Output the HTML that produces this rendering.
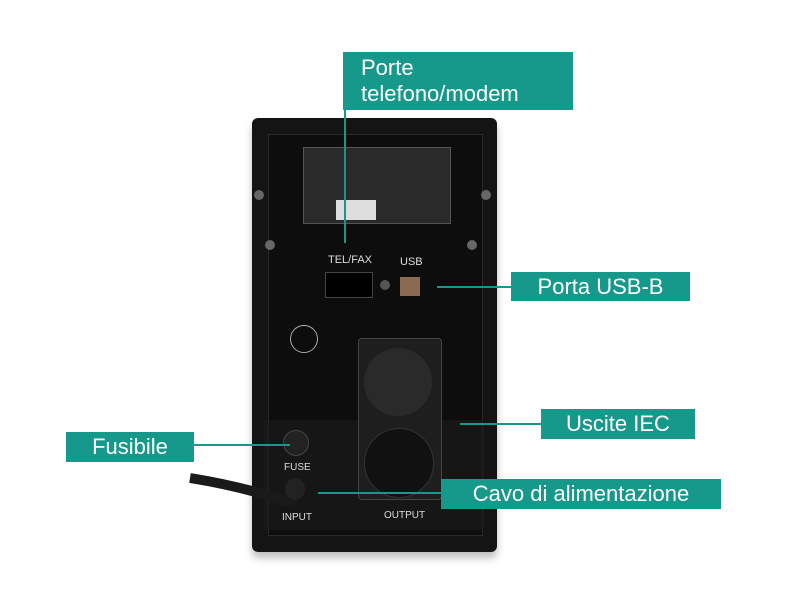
<!DOCTYPE html>
<html><head><style>
body{margin:0;width:800px;height:600px;background:#fff;position:relative;overflow:hidden;font-family:"Liberation Sans",sans-serif}
.a{position:absolute}
.lab{position:absolute;background:#16988b;color:#fff;font-size:22px;line-height:26px;padding:0 10px;box-sizing:border-box}
.ln{position:absolute;background:#16988b}
.t{position:absolute;color:#ddd;font-size:10px}
</style></head><body>
<!-- body -->
<div class="a" style="left:252px;top:118px;width:245px;height:434px;background:#141414;border-radius:6px;box-shadow:0 6px 8px rgba(0,0,0,.25)"></div>
<div class="a" style="left:268px;top:134px;width:213px;height:400px;background:#0d0d0d;border:1px solid #2a2a2a"></div>
<div class="a" style="left:264px;top:420px;width:220px;height:110px;background:#1c1c1c;opacity:.6"></div>
<!-- cable -->
<svg class="a" style="left:0;top:0" width="800" height="600">
<path d="M190 478 Q240 486 282 500 Q296 504 296 490" stroke="#1a1a1a" stroke-width="10" fill="none"/>
</svg>
<!-- label plate -->
<div class="a" style="left:303px;top:147px;width:146px;height:75px;background:#2a2a2a;border:1px solid #555"></div>
<div class="a" style="left:336px;top:200px;width:40px;height:20px;background:#ddd"></div>
<!-- screws -->
<div class="a" style="left:254px;top:190px;width:10px;height:10px;border-radius:50%;background:#666"></div>
<div class="a" style="left:481px;top:190px;width:10px;height:10px;border-radius:50%;background:#666"></div>
<div class="a" style="left:265px;top:240px;width:10px;height:10px;border-radius:50%;background:#666"></div>
<div class="a" style="left:467px;top:240px;width:10px;height:10px;border-radius:50%;background:#666"></div>
<!-- ports -->
<div class="t" style="left:328px;top:254px;font-size:11px">TEL/FAX</div>
<div class="t" style="left:400px;top:256px;font-size:11px">USB</div>
<div class="a" style="left:325px;top:272px;width:46px;height:24px;background:#000;border:1px solid #444"></div>
<div class="a" style="left:380px;top:280px;width:10px;height:10px;border-radius:50%;background:#555"></div>
<div class="a" style="left:400px;top:277px;width:20px;height:19px;background:#8a6a50"></div>
<div class="a" style="left:290px;top:325px;width:26px;height:26px;border-radius:50%;border:1px solid #aaa"></div>
<!-- sockets -->
<div class="a" style="left:358px;top:338px;width:82px;height:160px;background:#1e1e1e;border:1px solid #444;border-radius:4px"></div>
<div class="a" style="left:364px;top:348px;width:68px;height:68px;border-radius:50%;background:#2a2a2a"></div>
<div class="a" style="left:364px;top:428px;width:68px;height:68px;border-radius:50%;background:#111;border:1px solid #333"></div>
<div class="a" style="left:283px;top:430px;width:24px;height:24px;border-radius:50%;background:#222;border:1px solid #444"></div>
<div class="t" style="left:284px;top:462px">FUSE</div>
<div class="a" style="left:285px;top:478px;width:20px;height:22px;border-radius:50%;background:#222"></div>
<div class="t" style="left:282px;top:512px">INPUT</div>
<div class="t" style="left:384px;top:510px">OUTPUT</div>
<!-- connectors -->
<div class="ln" style="left:344px;top:108px;width:2px;height:135px"></div>
<div class="ln" style="left:437px;top:286px;width:76px;height:2px"></div>
<div class="ln" style="left:460px;top:423px;width:82px;height:2px"></div>
<div class="ln" style="left:192px;top:444px;width:98px;height:2px"></div>
<div class="ln" style="left:318px;top:492px;width:124px;height:2px"></div>
<!-- labels -->
<div class="lab" style="left:343px;top:52px;width:230px;height:58px;padding:3px 0 0 18px">Porte<br>telefono/modem</div>
<div class="lab" style="left:511px;top:272px;width:179px;height:29px;padding-top:2px;text-align:center">Porta USB-B</div>
<div class="lab" style="left:541px;top:409px;width:154px;height:30px;padding-top:2px;text-align:center">Uscite IEC</div>
<div class="lab" style="left:66px;top:432px;width:128px;height:30px;padding-top:2px;text-align:center">Fusibile</div>
<div class="lab" style="left:441px;top:479px;width:280px;height:30px;padding-top:2px;text-align:center">Cavo di alimentazione</div>
</body></html>
